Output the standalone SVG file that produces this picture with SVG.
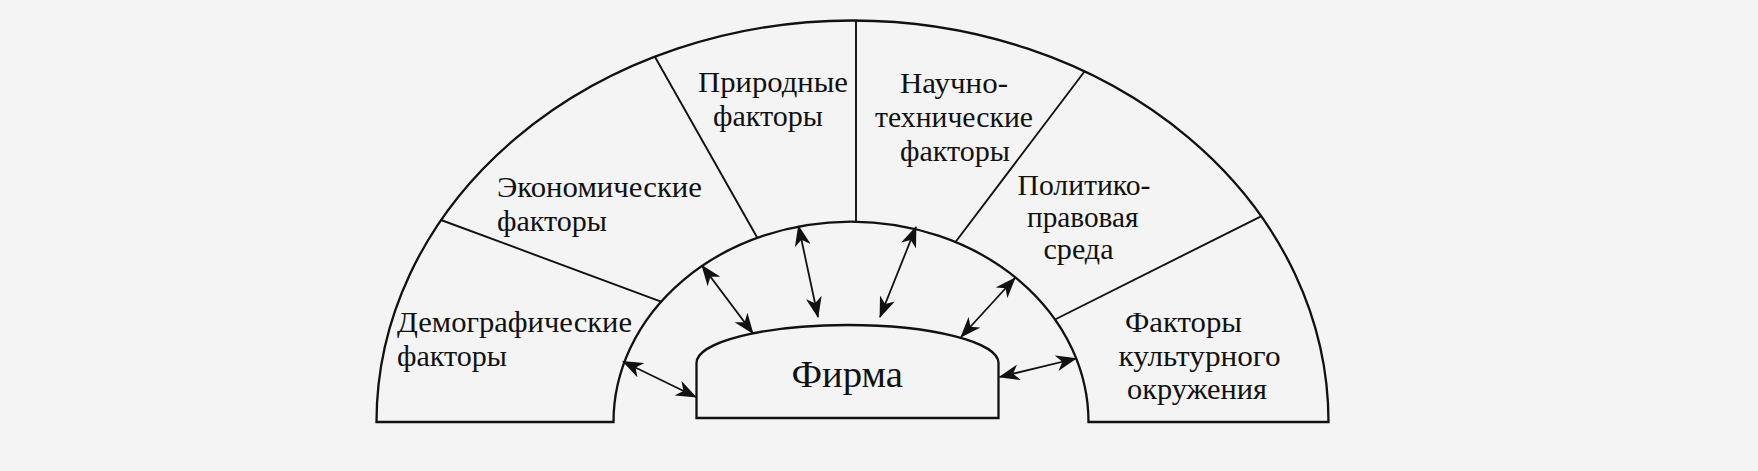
<svg xmlns="http://www.w3.org/2000/svg" width="1758" height="471" viewBox="0 0 1758 471">
<defs>
<style>
.ln{fill:none;stroke:#111;stroke-width:2.3;stroke-linecap:round}
.dv{fill:none;stroke:#111;stroke-width:1.9;stroke-linecap:round}
.ar{fill:none;stroke:#111;stroke-width:1.8;marker-start:url(#ah);marker-end:url(#ah)}
.t{font-family:"Liberation Serif","Times New Roman",serif;font-size:29px;fill:#111}
.f{font-family:"Liberation Serif","Times New Roman",serif;font-size:37px;fill:#111}
</style>
<marker id="ah" viewBox="0 0 21 16" refX="20" refY="8" markerWidth="21" markerHeight="16" markerUnits="userSpaceOnUse" orient="auto-start-reverse">
<path d="M0,0 L21,8 L0,16 L6,8 Z" fill="#111"/>
</marker>
</defs>
<rect x="0" y="0" width="1758" height="471" fill="#f4f4f4"/>

<g id="environment">
<path class="ln" d="M613.5,422 H376.5 A476,401.5 0 0 1 1328.5,422 H1088.5 A237.5,200.5 0 0 0 613.5,422 Z" fill="#f8f8f8"/>
<line class="dv" x1="441" y1="220" x2="661" y2="301.6"/>
<line class="dv" x1="655" y1="57" x2="757.3" y2="237.8"/>
<line class="dv" x1="856" y1="20.6" x2="856" y2="221.5"/>
<line class="dv" x1="1084.5" y1="71.5" x2="955.5" y2="242"/>
<line class="dv" x1="1261" y1="216.3" x2="1055" y2="319.5"/>
</g>

<g id="demographic">
<text class="t" x="397" y="332" textLength="235" lengthAdjust="spacingAndGlyphs">Демографические</text>
<text class="t" x="397" y="366" textLength="110" lengthAdjust="spacingAndGlyphs">факторы</text>
</g>
<g id="economic">
<text class="t" x="497" y="197" textLength="205" lengthAdjust="spacingAndGlyphs">Экономические</text>
<text class="t" x="497" y="231" textLength="110" lengthAdjust="spacingAndGlyphs">факторы</text>
</g>
<g id="natural">
<text class="t" x="698" y="92" textLength="150" lengthAdjust="spacingAndGlyphs">Природные</text>
<text class="t" x="713" y="126" textLength="110" lengthAdjust="spacingAndGlyphs">факторы</text>
</g>
<g id="scitech">
<text class="t" x="900" y="93" textLength="108" lengthAdjust="spacingAndGlyphs">Научно-</text>
<text class="t" x="875" y="127" textLength="158" lengthAdjust="spacingAndGlyphs">технические</text>
<text class="t" x="900" y="161" textLength="110" lengthAdjust="spacingAndGlyphs">факторы</text>
</g>
<g id="political">
<text class="t" x="1017.5" y="195" textLength="133" lengthAdjust="spacingAndGlyphs">Политико-</text>
<text class="t" x="1027" y="227" textLength="111.5" lengthAdjust="spacingAndGlyphs">правовая</text>
<text class="t" x="1043.5" y="259" textLength="70" lengthAdjust="spacingAndGlyphs">среда</text>
</g>
<g id="cultural">
<text class="t" x="1125" y="332" textLength="117" lengthAdjust="spacingAndGlyphs">Факторы</text>
<text class="t" x="1118.5" y="365.5" textLength="162" lengthAdjust="spacingAndGlyphs">культурного</text>
<text class="t" x="1127" y="399" textLength="140" lengthAdjust="spacingAndGlyphs">окружения</text>
</g>

<g id="firm">
<path class="ln" d="M696.5,418 V363 A151,38 0 0 1 998.5,363 V418 Z" fill="#f8f8f8"/>
<text class="f" x="791.5" y="387" textLength="111.5" lengthAdjust="spacingAndGlyphs">Фирма</text>
</g>

<g id="connectors">
<line class="ar" x1="623" y1="361.5" x2="696" y2="397"/>
<line class="ar" x1="702" y1="265.5" x2="753" y2="333.5"/>
<line class="ar" x1="798.5" y1="226" x2="818" y2="317"/>
<line class="ar" x1="916" y1="227" x2="880" y2="317"/>
<line class="ar" x1="1015" y1="278" x2="961" y2="337"/>
<line class="ar" x1="1076" y1="358.5" x2="999.5" y2="377"/>
</g>
</svg>
